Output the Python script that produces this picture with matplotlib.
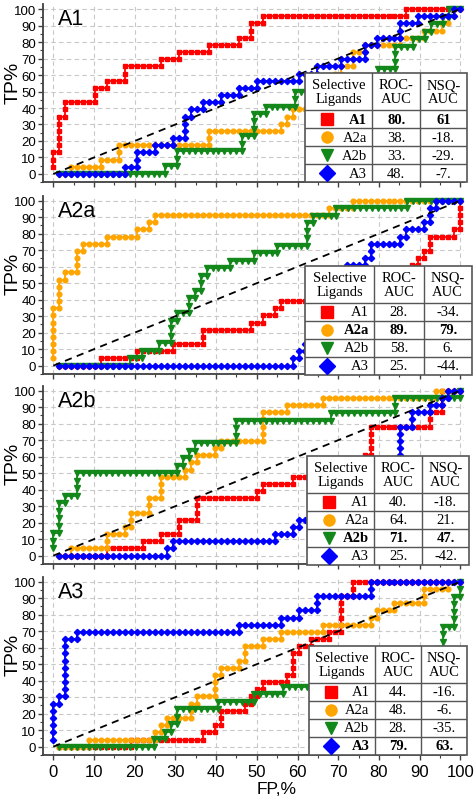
import matplotlib.pyplot as plt
from matplotlib.ticker import MultipleLocator
from matplotlib.patches import Rectangle

plt.rcParams['font.family'] = ['Liberation Sans', 'DejaVu Sans']

panels = ['A1', 'A2a', 'A2b', 'A3']
ligands = ['A1', 'A2a', 'A2b', 'A3']
n_decoys = [68, 68, 69, 68]   # decoys for each ligand set

# for every selective ligand: number of decoys ranked above it
# (one list per ligand set, order A1, A2a, A2b, A3)
model_a1 = [
    [0, 0, 0, 1, 1, 1, 1, 1, 2, 2, 7, 7, 9, 12, 12, 18, 21, 26, 31, 33, 33, 35, 59],
    [3, 8, 11, 11, 26, 26, 38, 39, 40, 43, 44, 45, 46, 47, 48, 50, 50, 52, 58, 62, 65, 66, 67],
    [19, 21, 21, 32, 32, 34, 34, 34, 36, 41, 41, 48, 53, 55, 58, 58, 58, 61, 63, 64, 66, 67],
    [12, 14, 14, 17, 20, 22, 22, 22, 23, 25, 28, 31, 34, 41, 44, 48, 52, 52, 54, 58, 58, 61, 67],
]
model_a2a = [
    [8, 14, 20, 25, 25, 33, 35, 37, 38, 46, 52, 57, 59, 60, 61, 62, 63, 63, 67, 68, 68, 68, 68],
    [0, 0, 0, 0, 0, 0, 0, 0, 1, 1, 1, 1, 2, 4, 4, 4, 5, 9, 14, 16, 17, 46, 50],
    [13, 15, 18, 20, 20, 20, 21, 23, 23, 24, 25, 25, 26, 30, 34, 38, 43, 43, 43, 44, 48, 60],
    [40, 41, 42, 43, 43, 44, 45, 45, 46, 47, 47, 48, 48, 49, 52, 53, 53, 58, 59, 62, 63, 63, 64],
]
model_a2b = [
    [9, 15, 18, 21, 21, 24, 24, 24, 34, 35, 40, 44, 48, 52, 53, 53, 53, 53, 63, 63, 65, 65, 65],
    [3, 9, 9, 12, 13, 13, 16, 16, 18, 18, 18, 22, 23, 24, 27, 28, 35, 35, 35, 35, 39, 45, 64],
    [0, 0, 0, 1, 1, 1, 1, 2, 4, 4, 4, 21, 22, 23, 24, 31, 31, 31, 47, 58, 58, 69],
    [19, 20, 37, 40, 41, 43, 45, 47, 50, 52, 54, 56, 57, 58, 58, 58, 58, 58, 60, 60, 63, 65, 66],
]
model_a3 = [
    [13, 25, 27, 28, 28, 32, 33, 34, 35, 39, 40, 40, 40, 41, 43, 46, 48, 48, 48, 48, 48, 50, 50],
    [6, 17, 18, 19, 23, 23, 24, 27, 27, 27, 28, 31, 32, 32, 35, 38, 45, 53, 54, 57, 62, 62, 66],
    [17, 19, 20, 21, 21, 28, 34, 39, 45, 52, 58, 62, 65, 66, 66, 66, 68, 68, 68, 68, 69, 69],
    [0, 0, 0, 0, 0, 0, 1, 2, 2, 2, 2, 2, 2, 2, 2, 4, 31, 38, 41, 44, 44, 53, 53],
]
ranks = [model_a1, model_a2a, model_a2b, model_a3]

roc_auc = [['80.', '38.', '33.', '48.'],
           ['28.', '89.', '58.', '25.'],
           ['40.', '64.', '71.', '25.'],
           ['44.', '48.', '28.', '79.']]
nsq_auc = [['61', '-18.', '-29.', '-7.'],
           ['-34.', '79.', '6.', '-44.'],
           ['-18.', '21.', '47.', '-42.'],
           ['-16.', '-6.', '-35.', '63.']]

colors = ['#ff0000', '#ffa500', '#12881a', '#0000ff']
markers = ['s', 'o', 'v', 'D']
msizes = [3.0, 3.4, 3.7, 3.2]


def roc_points(r, nd):
    # walk down the ranked list: actives raise TP, decoys raise FP
    fp, tp = [], []
    found = 0
    for j in range(nd + 1):
        for v in r:
            if v == j:
                found += 1
                fp.append(100.0 * j / nd)
                tp.append(100.0 * found / len(r))
        if j < nd:
            fp.append(100.0 * (j + 1) / nd)
            tp.append(100.0 * found / len(r))
    return fp, tp


W, H = 477, 803
fig = plt.figure(figsize=(W / 100, H / 100), dpi=100)

bottoms = [0.7718, 0.5331, 0.2965, 0.0586]
tab_left = [305, 305, 307, 309]
tab_right = [467, 472, 469, 467]
tab_top = [74, 267, 457, 647]
serif = ['Liberation Serif', 'DejaVu Serif']

for i, name in enumerate(panels):
    ax = fig.add_axes([0.0904, bottoms[i], 0.8832, 0.2219])
    ax.set_xlim(-2.5, 101)
    ax.set_ylim(-5, 103)
    for k in range(4):
        x, y = roc_points(ranks[i][k], n_decoys[k])
        ax.plot(x, y, color=colors[k], lw=1.3, marker=markers[k], ms=msizes[k],
                mec=colors[k], zorder=2 + k * 0.1)
    ax.plot([0, 100], [0, 100], color='black', lw=1.3, ls=(0, (4, 3)), zorder=3)

    ax.xaxis.set_major_locator(MultipleLocator(10))
    ax.xaxis.set_minor_locator(MultipleLocator(5))
    ax.yaxis.set_major_locator(MultipleLocator(10))
    ax.yaxis.set_minor_locator(MultipleLocator(5))
    ax.grid(True, which='major', color='#c8c8c8', lw=0.8, ls=(0, (4, 3)))
    ax.set_axisbelow(True)
    for s in ['top', 'right']:
        ax.spines[s].set_visible(False)
    for s in ['left', 'bottom']:
        ax.spines[s].set_color('#404040')
        ax.spines[s].set_linewidth(1.3)
    ax.tick_params(which='major', direction='out', length=3.5, width=1, color='#404040',
                   labelsize=9.5, pad=1.5)
    ax.tick_params(which='minor', direction='out', length=2, width=0.8, color='#404040')
    ax.tick_params(axis='x', labelsize=12, pad=3)
    if i < 3:
        ax.tick_params(axis='x', labelbottom=False)
    ax.text(1.2, 100.5, name, fontsize=15.5, ha='left', va='top')
    ax.text(-0.072, 0.565, 'TP%', transform=ax.transAxes, rotation=90,
            fontsize=14, ha='center', va='center')

    # legend table
    L, R, T = tab_left[i], tab_right[i], tab_top[i]
    tw, th = R - L, 109
    hh = 37
    rh = (th - hh) / 4
    c1, c2 = 0.415 * tw, 0.71 * tw
    tax = fig.add_axes([L / W, 1 - (T + th) / H, tw / W, th / H])
    tax.set_xlim(0, tw)
    tax.set_ylim(th, 0)
    tax.axis('off')
    tax.add_patch(Rectangle((0, 0), tw, th, facecolor='white', edgecolor='#555555',
                            lw=1.2, clip_on=False))
    for xv in [c1, c2]:
        tax.plot([xv, xv], [0, th], color='#555555', lw=1)
    for k in range(4):
        tax.plot([0, tw], [hh + k * rh, hh + k * rh], color='#555555', lw=1)
    tax.text(c1 / 2, hh / 2, 'Selective\nLigands', family=serif, fontsize=10.5,
             ha='center', va='center', linespacing=1.1)
    tax.text((c1 + c2) / 2, hh / 2, 'ROC-\nAUC', family=serif, fontsize=10.5,
             ha='center', va='center', linespacing=1.1)
    tax.text((c2 + tw) / 2, hh / 2, 'NSQ-\nAUC', family=serif, fontsize=10.5,
             ha='center', va='center', linespacing=1.1)
    for k in range(4):
        yc = hh + (k + 0.5) * rh
        wt = 'bold' if k == i else 'normal'
        tax.plot([22], [yc], marker=markers[k], color=colors[k], ms=8 if k != 3 else 8.5,
                 ls='none')
        tax.text(c1 - 5, yc, ligands[k], family=serif, fontsize=10.5, weight=wt,
                 ha='right', va='center')
        tax.text((c1 + c2) / 2, yc, roc_auc[i][k], family=serif, fontsize=10.5, weight=wt,
                 ha='center', va='center')
        tax.text((c2 + tw) / 2, yc, nsq_auc[i][k], family=serif, fontsize=10.5, weight=wt,
                 ha='center', va='center')

fig.text(277 / W, 1 - 790 / H, 'FP,%', fontsize=12.5, ha='center', va='center')

fig.savefig('out.png', dpi=100)
